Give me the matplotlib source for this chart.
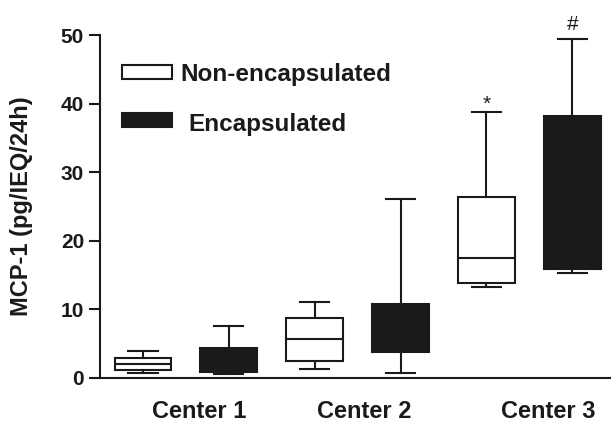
import matplotlib
matplotlib.use("Agg")
import matplotlib.pyplot as plt
from matplotlib.patches import Rectangle

plt.rcParams['font.family'] = ['Liberation Sans', 'DejaVu Sans']

centers = ["Center 1", "Center 2", "Center 3"]
groups = ["Non-encapsulated", "Encapsulated"]
# box statistics, order: C1 non-enc, C1 enc, C2 non-enc, C2 enc, C3 non-enc, C3 enc
whislo = [0.7, 0.6, 1.3, 0.8, 13.3, 15.3]
q1 =     [1.2, 0.9, 2.5, 3.8, 13.9, 15.9]
med =    [2.0, 2.0, 5.7, 6.0, 17.5, 20.0]
q3 =     [2.9, 4.4, 8.7, 10.8, 26.4, 38.2]
whishi = [3.9, 7.6, 11.1, 26.1, 38.8, 49.4]
annotations = ["", "", "", "", "*", "#"]

INK = '#1a1a1a'

fig = plt.figure(figsize=(6.11, 4.25), dpi=100)
ax = fig.add_axes([0.1637, 0.1106, 0.8363, 0.807])

stats = []
for i in range(6):
    stats.append(dict(whislo=whislo[i], q1=q1[i], med=med[i], q3=q3[i],
                      whishi=whishi[i], fliers=[]))
positions = [1, 2, 3, 4, 5, 6]
bp = ax.bxp(stats, positions=positions, widths=0.66, capwidths=0.34,
            patch_artist=True, showfliers=False,
            boxprops=dict(linewidth=1.5, edgecolor=INK),
            whiskerprops=dict(linewidth=1.5, color=INK),
            capprops=dict(linewidth=1.5, color=INK),
            medianprops=dict(linewidth=1.5, color=INK))
for i, b in enumerate(bp['boxes']):
    b.set_facecolor('white' if i % 2 == 0 else INK)

ann_offset = [0, 0, 0, 0, 0.3, 1.3]
for i, a in enumerate(annotations):
    if a:
        ax.text(positions[i], whishi[i] + ann_offset[i], a, ha='center',
                va='baseline', fontsize=15, color=INK, clip_on=False)

ax.set_xlim(0.5, 6.45)
ax.set_ylim(0, 50)
ax.set_yticks([0, 10, 20, 30, 40, 50])
ax.set_xticks([1.65, 3.58, 5.72])
ax.set_xticklabels(centers, fontsize=17, fontweight='bold', color=INK)
ax.tick_params(axis='x', length=0, pad=15.5)
ax.tick_params(axis='y', length=8, width=1.5, labelsize=15, pad=3.5,
               direction='out', color=INK, labelcolor=INK)
for lbl in ax.get_yticklabels():
    lbl.set_fontweight('bold')
ax.set_ylabel("MCP-1 (pg/IEQ/24h)", fontsize=17, fontweight='bold', color=INK)
ax.yaxis.set_label_coords(-0.131, 0.5)
ax.spines['top'].set_visible(False)
ax.spines['right'].set_visible(False)
ax.spines['left'].set_linewidth(1.5)
ax.spines['bottom'].set_linewidth(1.5)
ax.spines['left'].set_color(INK)
ax.spines['bottom'].set_color(INK)

# legend drawn manually (figure-fraction placement)
leg_faces = ['white', INK]
leg_rect_y = [0.8141, 0.7012]
leg_text_x = [0.2946, 0.3077]
leg_text_y = [0.8094, 0.6918]
for j in range(2):
    fig.patches.append(Rectangle((0.1997, leg_rect_y[j]), 0.0818, 0.0329,
                                 transform=fig.transFigure, facecolor=leg_faces[j],
                                 edgecolor=INK, linewidth=1.5))
    fig.text(leg_text_x[j], leg_text_y[j], groups[j], fontsize=17.5,
             fontweight='bold', color=INK, va='baseline', ha='left')

fig.savefig("out.png", dpi=100)
